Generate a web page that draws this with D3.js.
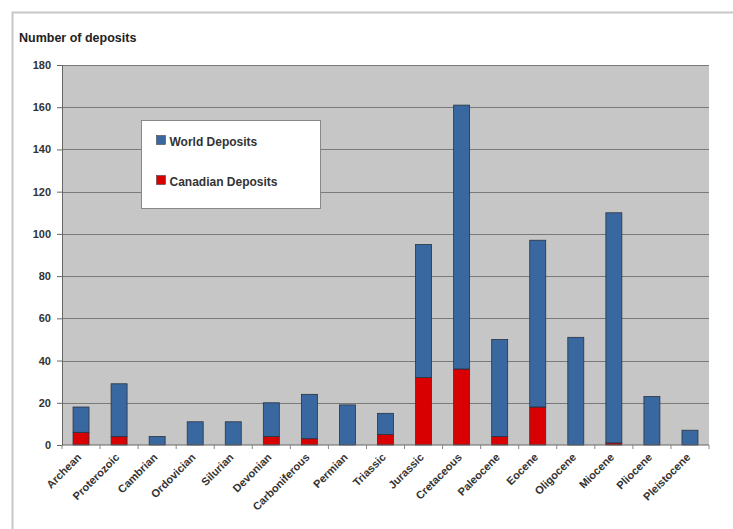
<!DOCTYPE html>
<html>
<head>
<meta charset="utf-8">
<script src="https://cdn.jsdelivr.net/npm/d3@7"></script>
<style>
  body { margin: 0; background: #fff; }
  text { font-family: "Liberation Sans", Arial, sans-serif; font-weight: bold; fill: #333; }
</style>
</head>
<body>
<div class="chart"></div>
<script>
// Deposits by geological period, stacked: Canadian at the bottom, rest of world on top

var periods = ['Archean', 'Proterozoic', 'Cambrian', 'Ordovician', 'Silurian', 'Devonian',
  'Carboniferous', 'Permian', 'Triassic', 'Jurassic', 'Cretaceous', 'Paleocene',
  'Eocene', 'Oligocene', 'Miocene', 'Pliocene', 'Pleistocene'];
var canadian = [6, 4, 0, 0, 0, 4, 3, 0, 5, 32, 36, 4, 18, 0, 1, 0, 0];
var world = [12, 25, 4, 11, 11, 16, 21, 19, 10, 63, 125, 46, 79, 51, 109, 23, 7];
var yTicks = [0, 20, 40, 60, 80, 100, 120, 140, 160, 180];
var seriesNames = ['World Deposits', 'Canadian Deposits'];

var width = 733, height = 529;
var margin = {top: 65, right: 24, bottom: 84, left: 62};
var colors = {world: '#38689f', canadian: '#d80000'};

var svg = d3.select('.chart').append('svg')
  .attr('width', width)
  .attr('height', height);

// outer frame (only top and left edge show in the original crop)
svg.append('rect')
  .attr('x', 12.5).attr('y', 12.5)
  .attr('width', width + 20).attr('height', height + 20)
  .attr('fill', 'none')
  .attr('stroke', '#c8c8c8')
  .attr('stroke-width', 2);

svg.append('text')
  .attr('x', 19).attr('y', 42)
  .attr('font-size', 12.5)
  .style('fill', '#222')
  .text('Number of deposits');

var x = d3.scaleBand()
  .domain(periods)
  .range([margin.left, width - margin.right])
  .paddingInner(0.58)
  .paddingOuter(0.29);

var y = d3.scaleLinear()
  .domain([0, 180])
  .range([height - margin.bottom, margin.top]);

// plot background
svg.append('rect')
  .attr('x', margin.left)
  .attr('y', y(180))
  .attr('width', width - margin.right - margin.left)
  .attr('height', y(0) - y(180))
  .attr('fill', '#c6c6c6');

// grid lines
svg.append('g')
  .selectAll('line')
  .data(yTicks.slice(1))
  .enter()
  .append('line')
    .attr('x1', margin.left)
    .attr('x2', width - margin.right)
    .attr('y1', function(d) { return Math.round(y(d)) + 0.5; })
    .attr('y2', function(d) { return Math.round(y(d)) + 0.5; })
    .attr('stroke', '#7a7a7a')
    .attr('stroke-width', 1);

// stacked bars
var rows = periods.map(function(p, i) {
  return {period: p, canadian: canadian[i], world: world[i]};
});
var stacked = d3.stack().keys(['canadian', 'world'])(rows);

svg.append('g')
  .selectAll('g')
  .data(stacked)
  .enter()
  .append('g')
    .attr('fill', function(s) { return colors[s.key]; })
  .selectAll('rect')
  .data(function(s) { return s.filter(function(d) { return d[1] > d[0]; }); })
  .enter()
  .append('rect')
    .attr('x', function(d) { return x(d.data.period); })
    .attr('y', function(d) { return y(d[1]); })
    .attr('width', x.bandwidth())
    .attr('height', function(d) { return y(d[0]) - y(d[1]); })
    .attr('stroke', '#2a3340')
    .attr('stroke-width', 0.8);

// y axis
var yAxis = svg.append('g')
  .attr('transform', 'translate(' + margin.left + ',0)')
  .call(d3.axisLeft(y).tickValues(yTicks).tickSize(5).tickPadding(6));
yAxis.selectAll('text').attr('font-size', 11);
yAxis.selectAll('line, path').attr('stroke', '#666');

// x axis: ticks between categories
var step = x.step();
var xAxis = svg.append('g')
  .attr('transform', 'translate(0,' + y(0) + ')');
xAxis.append('line')
  .attr('x1', margin.left).attr('x2', width - margin.right)
  .attr('stroke', '#666');
xAxis.selectAll('.tick')
  .data(d3.range(periods.length + 1))
  .enter()
  .append('line')
    .attr('x1', function(i) { return margin.left + i * step; })
    .attr('x2', function(i) { return margin.left + i * step; })
    .attr('y1', 0).attr('y2', 4)
    .attr('stroke', '#888');
xAxis.selectAll('text')
  .data(periods)
  .enter()
  .append('text')
    .attr('transform', function(d) {
      return 'translate(' + (x(d) + x.bandwidth() / 2 + 1) + ',13) rotate(-45)';
    })
    .attr('text-anchor', 'end')
    .attr('font-size', 11)
    .text(function(d) { return d; });

// legend
var legend = svg.append('g').attr('transform', 'translate(141.5,120.5)');
legend.append('rect')
  .attr('width', 179).attr('height', 88)
  .attr('fill', '#fff')
  .attr('stroke', '#888');
var items = legend.selectAll('g.item')
  .data(seriesNames)
  .enter()
  .append('g')
    .attr('transform', function(d, i) { return 'translate(15,' + (22 + i * 40) + ')'; });
items.append('rect')
  .attr('width', 9).attr('height', 9).attr('y', -7)
  .attr('fill', function(d, i) { return i === 0 ? colors.world : colors.canadian; })
  .attr('stroke', '#333').attr('stroke-width', 0.5);
items.append('text')
  .attr('x', 13).attr('y', 3)
  .attr('font-size', 12)
  .text(function(d) { return d; });
</script>
</body>
</html>
